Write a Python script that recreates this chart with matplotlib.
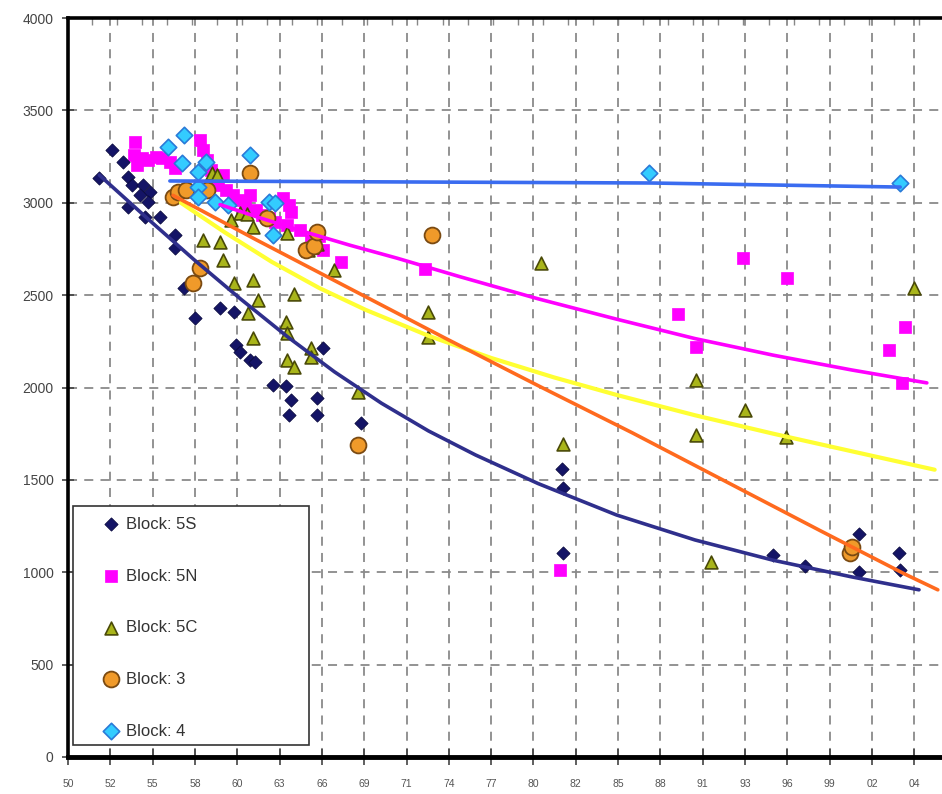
import numpy as np
import matplotlib.pyplot as plt
from matplotlib.patches import Rectangle

plt.rcParams['font.family'] = ['Liberation Sans', 'DejaVu Sans']

# axis ticks
year_ticks = np.linspace(1950, 2004, 21)
tick_labels = ['50', '52', '55', '58', '60', '63', '66', '69', '71', '74', '77',
               '80', '82', '85', '88', '91', '93', '96', '99', '02', '04']
y_ticks = [0, 500, 1000, 1500, 2000, 2500, 3000, 3500, 4000]

# Block 5S
s5_year = [1952.0, 1952.8, 1953.5, 1953.8, 1954.1, 1954.8, 1955.2, 1954.6, 1953.8, 1955.1,
           1954.9, 1955.9, 1956.8, 1956.8, 1957.4, 1958.1, 1959.7, 1960.6, 1960.7, 1961.0,
           1961.6, 1961.9, 1963.1, 1963.9, 1964.2, 1964.1, 1965.9, 1965.9, 1966.3, 1968.7,
           1981.5, 1981.6, 1981.6, 1995.0, 1997.0, 2000.5, 2000.5, 2003.0, 2003.1]
s5_val = [3135, 3285, 3220, 3139, 3096, 3096, 3058, 3042, 2977, 3004,
          2923, 2923, 2825, 2755, 2539, 2376, 2430, 2409, 2230, 2192,
          2149, 2138, 2014, 2008, 1932, 1851, 1943, 1851, 2214, 1808,
          1559, 1456, 1104, 1093, 1034, 1207, 1001, 1104, 1012]

# Block 5N
n5_year = [1954.3, 1954.2, 1954.4, 1954.7, 1955.1, 1955.6, 1956.0, 1956.5, 1956.8, 1958.4,
           1958.6, 1958.9, 1959.1, 1959.3, 1959.6, 1959.9, 1960.1, 1960.5, 1960.9, 1961.3,
           1961.6, 1962.0, 1962.4, 1962.8, 1963.2, 1963.7, 1964.1, 1964.2, 1964.0, 1964.8,
           1965.5, 1966.0, 1966.3, 1967.4, 1972.8, 1981.4, 1988.9, 1990.1, 1993.1, 1995.9,
           2002.4, 2003.4, 2003.2]
n5_val = [3329, 3258, 3204, 3242, 3231, 3248, 3242, 3220, 3188, 3340,
          3285, 3231, 3177, 3134, 3096, 3150, 3069, 3042, 3015, 2988,
          3042, 2961, 2934, 2917, 2896, 3026, 2988, 2950, 2880, 2853,
          2798, 2820, 2744, 2679, 2641, 1012, 2398, 2219, 2701, 2593,
          2203, 2327, 2024]

# Block 5C
c5_year = [1959.2, 1959.5, 1960.4, 1961.0, 1961.4, 1961.8, 1958.6, 1959.7, 1959.9, 1960.6,
           1961.8, 1962.1, 1961.5, 1961.8, 1964.0, 1964.4, 1963.9, 1964.0, 1964.0, 1964.4,
           1965.5, 1965.5, 1965.3, 1965.6, 1965.9, 1967.0, 1968.5, 1973.0, 1973.0, 1980.2,
           1981.6, 1990.1, 1993.2, 1990.1, 1995.8, 1991.0, 2004.0]
c5_val = [3161, 3150, 2907, 2945, 2939, 2869, 2798, 2788, 2690, 2566,
          2582, 2474, 2403, 2268, 2836, 2506, 2355, 2295, 2149, 2111,
          2214, 2165, 2744, 2760, 2777, 2636, 1976, 2409, 2273, 2674,
          1694, 2041, 1878, 1743, 1732, 1055, 2539]

# Block 3
b3_year = [1956.7, 1957.0, 1957.5, 1958.0, 1958.4, 1958.9, 1961.6, 1962.7, 1965.2, 1965.7,
           1965.9, 1973.2, 1968.5, 1999.9, 2000.0]
b3_val = [3031, 3058, 3069, 2566, 2647, 3069, 3161, 2917, 2744, 2766,
          2842, 2825, 1689, 1104, 1137]

# Block 4
b4_year = [1956.4, 1957.4, 1957.3, 1958.3, 1958.8, 1958.3, 1958.3, 1959.4, 1960.2, 1961.6,
           1962.8, 1963.2, 1963.1, 1987.1, 2003.1]
b4_val = [3302, 3367, 3215, 3085, 3220, 3166, 3031, 3004, 2988, 3258,
          3004, 2999, 2825, 3161, 3107]

# trend lines
fit_5s_year = [1952.0, 1955, 1958, 1961, 1964, 1967, 1970, 1973, 1976, 1980, 1985, 1990,
               1995, 2000, 2004.3]
fit_5s_val = [3150, 2920, 2695, 2480, 2275, 2085, 1915, 1765, 1635, 1480, 1310, 1175,
              1065, 975, 905]
fit_5n_year = [1959.7, 1962, 1965, 1968, 1971, 1975, 1980, 1985, 1990, 1995, 2000, 2004.8]
fit_5n_val = [2990, 2925, 2845, 2770, 2700, 2600, 2480, 2370, 2265, 2175, 2095, 2025]
fit_5c_year = [1957.2, 1960, 1963, 1966, 1969, 1973, 1977, 1981, 1985, 1990, 1995, 2000,
               2005.3]
fit_5c_val = [3000, 2840, 2680, 2540, 2420, 2280, 2160, 2055, 1960, 1850, 1750, 1655, 1555]
fit_3_year = [1956.7, 1962, 1968, 1974, 1980, 1986, 1992, 1998, 2003.4, 2005.5]
fit_3_val = [3040, 2800, 2535, 2270, 2010, 1755, 1490, 1225, 990, 905]
fit_4_year = [1956.5, 1987.2, 2003.1]
fit_4_val = [3118, 3107, 3085]

fig = plt.figure(figsize=(9.42, 7.94), dpi=100)
ax = fig.add_axes([0.0722, 0.0466, 0.93, 0.9307])

ax.set_xlim(1950, 2005.9)
ax.set_ylim(0, 4000)

# grid
for x in year_ticks[1:]:
    ax.axvline(x, color='#8a8a8a', lw=1.3, ls=(0, (5, 4)), zorder=0)
for y in y_ticks[1:-1]:
    ax.axhline(y, color='#8a8a8a', lw=1.3, ls=(0, (5, 4)), zorder=0)

# points
h5n = ax.scatter(n5_year, n5_val, marker='s', s=70, color='#ff00ff', edgecolors='#ff00ff',
                 linewidths=0.5, zorder=3, label='Block: 5N')
h5s = ax.scatter(s5_year, s5_val, marker='D', s=45, color='#141466', edgecolors='#0a0a40',
                 linewidths=0.6, zorder=3, label='Block: 5S')
h5c = ax.scatter(c5_year, c5_val, marker='^', s=85, color='#a9b51a', edgecolors='#4a4a08',
                 linewidths=1.2, zorder=4, label='Block: 5C')
h3 = ax.scatter(b3_year, b3_val, marker='o', s=130, color='#f09a2a', edgecolors='#7a4a12',
                linewidths=1.3, zorder=4, label='Block: 3')
h4 = ax.scatter(b4_year, b4_val, marker='D', s=70, color='#33ccff', edgecolors='#2a7ad8',
                linewidths=1.2, zorder=5, label='Block: 4')

# trend lines
ax.plot(fit_5s_year, fit_5s_val, color='#2f2f8c', lw=2.6, zorder=6, solid_capstyle='round')
ax.plot(fit_5n_year, fit_5n_val, color='#ff00ff', lw=2.6, zorder=6, solid_capstyle='round')
ax.plot(fit_5c_year, fit_5c_val, color='#ffff33', lw=3.0, zorder=6, solid_capstyle='round')
ax.plot(fit_3_year, fit_3_val, color='#ff6a1e', lw=2.6, zorder=6, solid_capstyle='round')
ax.plot(fit_4_year, fit_4_val, color='#3a6cf0', lw=2.6, zorder=6, solid_capstyle='round')

# spines and ticks
ax.spines['right'].set_visible(False)
ax.spines['left'].set_linewidth(2.6)
ax.spines['top'].set_linewidth(2.6)
ax.spines['bottom'].set_linewidth(3.5)
ax.set_xticks(year_ticks)
ax.set_xticklabels(tick_labels)
ax.set_yticks(y_ticks)
ax.tick_params(axis='x', direction='inout', length=12, width=1.2, color='#444444',
               labelsize=7.5, labelcolor='#555555', pad=10)
ax.tick_params(axis='y', direction='inout', length=9, width=1.2, color='#444444',
               labelsize=10, labelcolor='#444444', pad=6)

top = ax.secondary_xaxis('top')
top.set_xticks(np.arange(1951.5, 2006, 1.6))
top.set_xticklabels([])
top.tick_params(direction='in', length=5, width=1.0, color='#888888')
top.spines['top'].set_visible(False)

# legend box
ax.add_patch(Rectangle((0.0057, 0.016), 0.269, 0.324, transform=ax.transAxes,
                       facecolor='white', edgecolor='#333333', lw=1.2, zorder=8))
leg = ax.legend(handles=[h5s, h5n, h5c, h3, h4], loc='upper left',
                bbox_to_anchor=(0.022, 0.343), frameon=False, fontsize=12,
                labelspacing=2.2, handletextpad=0.35, handlelength=1.2,
                borderpad=0.3, scatterpoints=1)
leg.set_zorder(9)
for t in leg.get_texts():
    t.set_color('#333333')

fig.savefig('out.png', dpi=100, facecolor='white')
